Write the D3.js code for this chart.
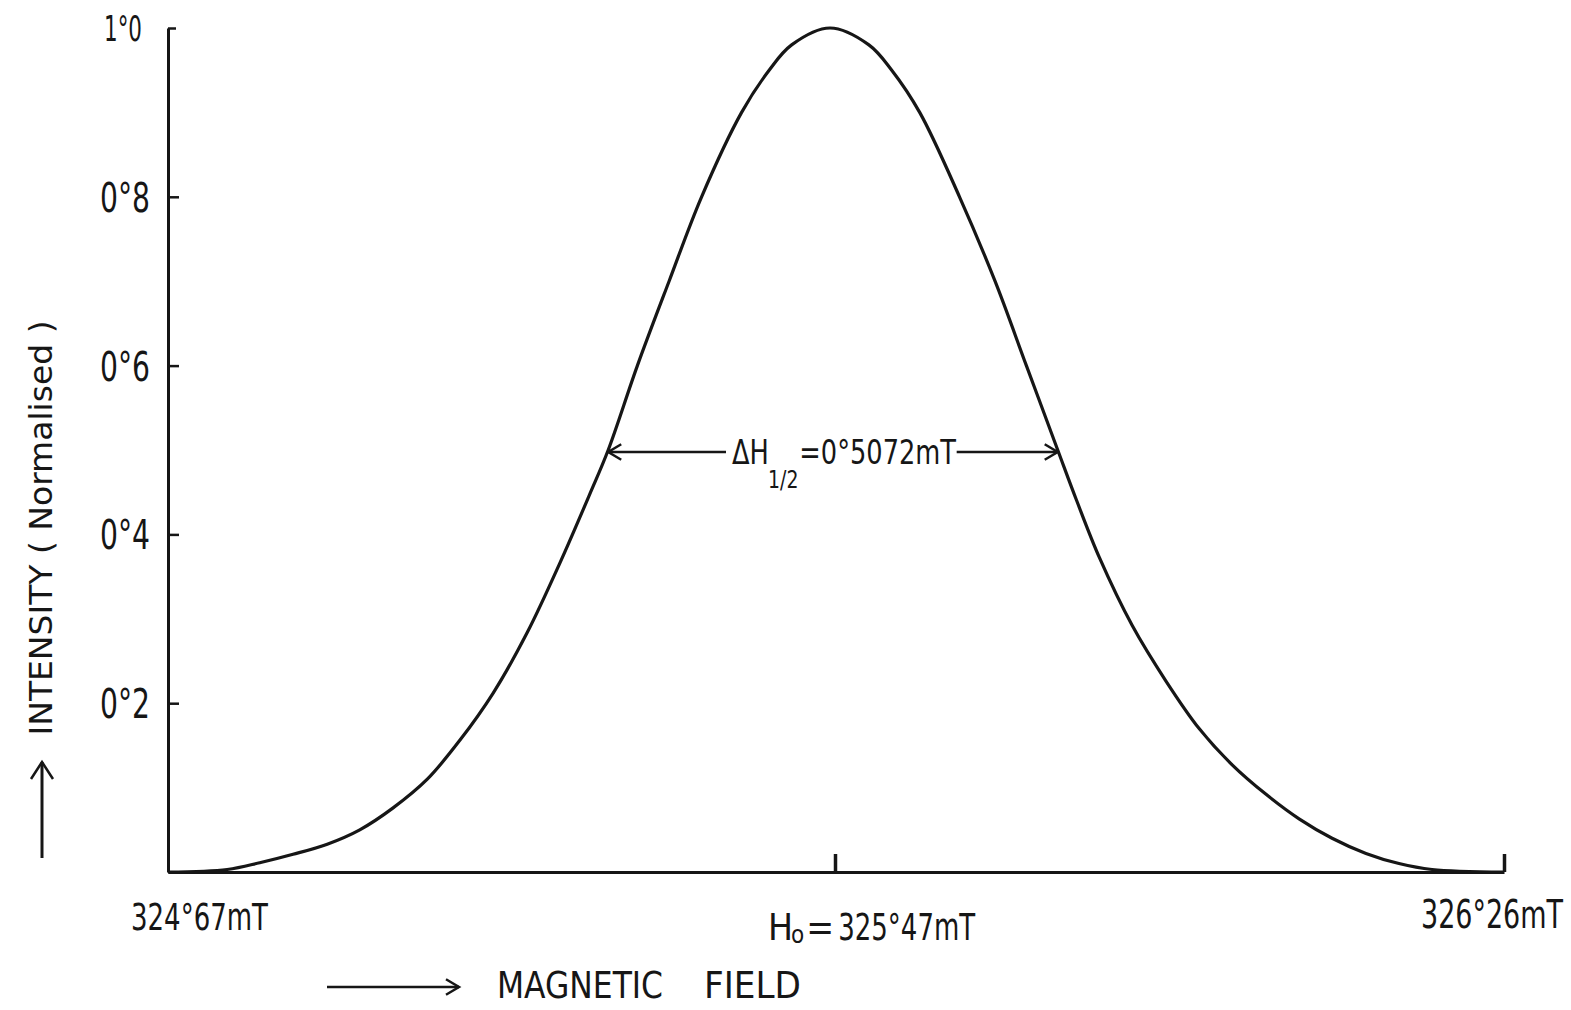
<!DOCTYPE html>
<html>
<head>
<meta charset="utf-8">
<script src="https://cdn.jsdelivr.net/npm/d3@7"></script>
<style>
  html, body { margin: 0; padding: 0; background: #ffffff; }
  svg { display: block; }
  text { font-family: "DejaVu Sans Condensed", "DejaVu Sans", sans-serif; fill: #161616; }
</style>
</head>
<body>
<svg id="chart" width="1571" height="1010"></svg>
<script>
// ---- data ----
const fieldValues = [
  324.670, 324.741, 324.780, 324.820, 324.861, 324.900, 324.940, 324.981,
  325.020, 325.060, 325.101, 325.140, 325.176, 325.198, 325.233, 325.271,
  325.310, 325.358, 325.391, 325.418, 325.464,
  325.510, 325.537, 325.570, 325.617, 325.659, 325.696, 325.733, 325.755,
  325.782, 325.821, 325.861, 325.900, 325.939, 325.979, 326.018, 326.057,
  326.097, 326.136, 326.175, 326.260
];
const intensityValues = [
  0.000, 0.003, 0.011, 0.021, 0.033, 0.050, 0.076, 0.110,
  0.156, 0.212, 0.284, 0.366, 0.448, 0.500, 0.600, 0.700,
  0.800, 0.900, 0.950, 0.980, 1.000,
  0.980, 0.950, 0.900, 0.800, 0.700, 0.600, 0.500, 0.441,
  0.373, 0.292, 0.226, 0.170, 0.127, 0.092, 0.063, 0.040,
  0.022, 0.010, 0.003, 0.000
];
const fieldTicks = [324.67, 325.47, 326.26];
const fieldTickLabels = ["324°67mT", "325°47mT", "326°26mT"];
const intensityTicks = [0.2, 0.4, 0.6, 0.8, 1.0];
const intensityTickLabels = ["0°2", "0°4", "0°6", "0°8", "1°0"];
const halfWidthEnds = [325.198, 325.733];
const halfWidthLabel = "0°5072mT";
const yTitle = "INTENSITY ( Normalised )";
const xTitleWords = ["MAGNETIC", "FIELD"];

// ---- drawing ----
const svg = d3.select("#chart");
const ink = "#161616";

const x = d3.scaleLinear().domain([324.67, 325.47, 326.26]).range([168, 835, 1504]);
const y = d3.scaleLinear().domain([0, 1]).range([872, 28]);

// y axis (ticks pointing inward, labels to the left)
const yAxis = d3.axisLeft(y)
  .tickValues(intensityTicks)
  .tickFormat((d, i) => intensityTickLabels[i])
  .tickSizeInner(-11)
  .tickSizeOuter(0)
  .tickPadding(18);
const gy = svg.append("g").attr("transform", `translate(${x(324.67)},0)`).call(yAxis);
gy.select(".domain").attr("stroke", ink).attr("stroke-width", 3);
gy.selectAll(".tick line").attr("stroke", ink).attr("stroke-width", 2.5);
gy.selectAll(".tick text")
  .attr("font-size", 40)
  .attr("fill", ink)
  .attr("dy", "0.36em")
  .attr("textLength", d => d === 1.0 ? 38 : 50)
  .attr("lengthAdjust", "spacingAndGlyphs")
  .style("font-family", '"DejaVu Sans Condensed", "DejaVu Sans", sans-serif');
gy.selectAll(".tick").filter(d => d === 1.0).select("text").attr("font-size", 36).attr("x", -26);
gy.selectAll(".tick").filter(d => d === 1.0).select("line").attr("x2", 8);

// x axis (ticks pointing up, labels placed under)
const xAxis = d3.axisBottom(x)
  .tickValues(fieldTicks)
  .tickFormat("")
  .tickSizeInner(-18)
  .tickSizeOuter(0);
const gx = svg.append("g").attr("transform", `translate(0,${y(0)})`).call(xAxis);
gx.select(".domain").attr("stroke", ink).attr("stroke-width", 3);
gx.selectAll(".tick line").attr("stroke", ink).attr("stroke-width", 3.5);
gx.selectAll(".tick").filter(d => d === 324.67).select("line").remove();

// x tick labels
svg.append("text")
  .attr("x", x(fieldTicks[0]) - 37).attr("y", 930)
  .attr("font-size", 37)
  .attr("textLength", 137).attr("lengthAdjust", "spacingAndGlyphs")
  .text(fieldTickLabels[0]);
const cLab = svg.append("text")
  .attr("x", x(fieldTicks[1]) - 67).attr("y", 940)
  .attr("font-size", 37);
cLab.append("tspan").text("H");
cLab.append("tspan").attr("font-size", 24).attr("dy", 3).attr("dx", -2).text("o");
cLab.append("tspan").attr("dy", -3).attr("dx", 2).text("=");
cLab.append("tspan").attr("dx", 4)
  .attr("textLength", 137).attr("lengthAdjust", "spacingAndGlyphs")
  .text(fieldTickLabels[1]);
// right label: squeezed with a transform so its box stays inside the page
const rG = svg.append("g").attr("transform", `translate(${x(fieldTicks[2]) - 83},928)`);
const rText = rG.append("text").attr("x", 0).attr("y", 0).attr("font-size", 39).text(fieldTickLabels[2]);
const rW = rText.node().getComputedTextLength();
rG.attr("transform", `translate(${x(fieldTicks[2]) - 83},928) scale(${142 / rW},1)`);

// curve
const line = d3.line()
  .x((d, i) => x(fieldValues[i]))
  .y((d, i) => y(intensityValues[i]))
  .curve(d3.curveCatmullRom.alpha(0.5));
svg.append("path")
  .datum(fieldValues)
  .attr("d", line)
  .attr("fill", "none")
  .attr("stroke", ink)
  .attr("stroke-width", 3.2)
  .attr("stroke-linejoin", "round");

// half-width annotation
const yHalf = y(0.5) + 2;
const xl = x(halfWidthEnds[0]), xr = x(halfWidthEnds[1]);
function chevron(tipX, tipY, dir, size) {
  return `M${tipX - dir * size},${tipY - size * 0.6} L${tipX},${tipY} L${tipX - dir * size},${tipY + size * 0.6}`;
}
const annSqueeze = 0.84, annX = 732;
const annG = svg.append("g").attr("transform", `translate(${annX},${yHalf + 12}) scale(${annSqueeze},1)`);
const annText = annG.append("text").attr("x", 0).attr("y", 0).attr("font-size", 34);
annText.append("tspan").text("ΔH");
annText.append("tspan").attr("font-size", 25).attr("dy", 24).attr("dx", -1).text("1/2");
annText.append("tspan").attr("dy", -24).attr("dx", 1).text("=" + halfWidthLabel);
const bb = annText.node().getBBox();
const annLeft = annX + bb.x * annSqueeze - 6;
const annRight = annX + (bb.x + bb.width) * annSqueeze;

svg.append("line").attr("x1", xl).attr("x2", annLeft).attr("y1", yHalf).attr("y2", yHalf)
  .attr("stroke", ink).attr("stroke-width", 2.5);
svg.append("line").attr("x1", annRight).attr("x2", xr).attr("y1", yHalf).attr("y2", yHalf)
  .attr("stroke", ink).attr("stroke-width", 2.5);
svg.append("path").attr("d", chevron(xl, yHalf, -1, 13)).attr("fill", "none").attr("stroke", ink).attr("stroke-width", 2.5);
svg.append("path").attr("d", chevron(xr, yHalf, 1, 13)).attr("fill", "none").attr("stroke", ink).attr("stroke-width", 2.5);

// y axis title with arrow
svg.append("text")
  .attr("transform", "translate(52,528) rotate(-90)")
  .attr("text-anchor", "middle")
  .attr("font-size", 32)
  .attr("textLength", 415)
  .attr("lengthAdjust", "spacingAndGlyphs")
  .text(yTitle);
svg.append("line").attr("x1", 42).attr("x2", 42).attr("y1", 858).attr("y2", 762)
  .attr("stroke", ink).attr("stroke-width", 3);
svg.append("path").attr("d", "M31,779 L42,762 L53,779").attr("fill", "none").attr("stroke", ink).attr("stroke-width", 2.5);

// x axis title with arrow
const xt = svg.append("text").attr("y", 998).attr("font-size", 37);
xt.append("tspan").attr("x", 497).attr("textLength", 166).attr("lengthAdjust", "spacingAndGlyphs").text(xTitleWords[0]);
xt.append("tspan").text(" ");
xt.append("tspan").attr("x", 704).attr("textLength", 97).attr("lengthAdjust", "spacingAndGlyphs").text(xTitleWords[1]);
svg.append("line").attr("x1", 327).attr("x2", 459).attr("y1", 987).attr("y2", 987)
  .attr("stroke", ink).attr("stroke-width", 2.5);
svg.append("path").attr("d", chevron(459, 987, 1, 13)).attr("fill", "none").attr("stroke", ink).attr("stroke-width", 2.5);
</script>
</body>
</html>
